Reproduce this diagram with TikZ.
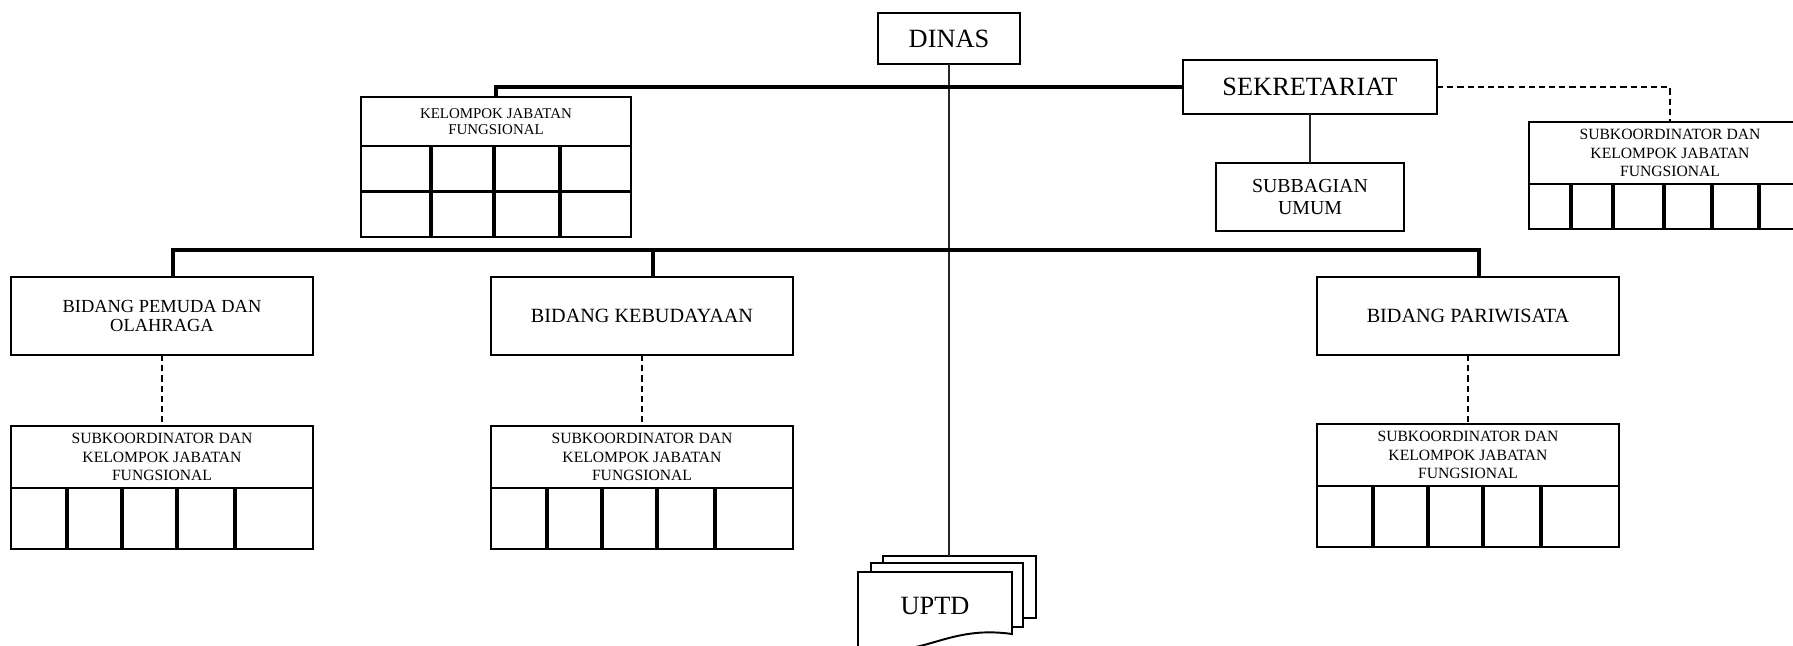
\documentclass[tikz,border=0pt]{standalone}
\usepackage{fontspec}
\setmainfont{Liberation Serif}
\usetikzlibrary{positioning,calc}
\tikzset{
    % --- Plain organisation box ---
    unitbox/.style = {
        rectangle, draw, line width=1.2pt, fill=white,
        inner sep=2pt, outer sep=0pt, align=center
    },
    % --- Top level boxes (Dinas, Sekretariat) ---
    head unit/.style = {
        unitbox, font=\fontsize{15}{17}\selectfont
    },
    % --- Bidang box ---
    bidang/.style = {
        unitbox, minimum width=6.04cm, minimum height=1.56cm,
        font=\fontsize{11.5}{10.8}\selectfont
    },
    % --- Header of a functional group ---
    group head/.style = {
        unitbox, font=\fontsize{8.9}{10.4}\selectfont
    },
    % --- Empty grid under a group header ---
    group grid/.style = {
        unitbox, line width=1.6pt
    },
    % --- Cell divider inside a grid ---
    cell/.style = {
        line width=1.9pt
    },
    % --- Line of command ---
    link/.style = {
        line width=1.9pt
    },
    thin link/.style = {
        line width=1.2pt, black!85
    },
    % --- Line of coordination ---
    coord link/.style = {
        line width=1.2pt, dash pattern=on 3.5pt off 2.3pt
    },
    % --- Stacked sheet of the UPTD symbol ---
    sheet/.style = {
        draw, line width=1.1pt, fill=white, outer sep=0pt
    }
}

\begin{document}
\begin{tikzpicture}[x=0.02cm, y=-0.02cm]

\useasboundingbox (0,0) rectangle (1793,646);
\clip (0,0) rectangle (1793,646);

% ---------------------------------------------------------
% Top level
% ---------------------------------------------------------
\node[head unit, minimum width=2.84cm, minimum height=1.02cm] (dinas) at (949,38.5) {DINAS};
\node[head unit, minimum width=5.08cm, minimum height=1.08cm] (sek) at (1310,87) {SEKRETARIAT};
\node[unitbox, minimum width=3.76cm, minimum height=1.36cm,
      font=\fontsize{11.3}{12.5}\selectfont] (subbag) at (1310,197) {SUBBAGIAN\\UMUM};

% Kelompok jabatan fungsional (left)
\node[group head, minimum width=5.4cm, minimum height=0.98cm,
      font=\fontsize{8.5}{9.3}\selectfont] (kjf) at (496,121.5) {KELOMPOK JABATAN\\FUNGSIONAL};
\node[group grid, minimum width=5.4cm, minimum height=1.82cm, below=0pt of kjf] (kjfgrid) {};
\draw[cell] (kjfgrid.west) -- (kjfgrid.east);
\foreach \d in {70,133,199}
    \draw[cell] ($(kjfgrid.north west)+(\d,0)$) -- ($(kjfgrid.south west)+(\d,0)$);

% Subkoordinator under Sekretariat (right)
\node[group head, minimum width=5.64cm, minimum height=1.24cm] (sk0) at (1670,153)
    {SUBKOORDINATOR DAN\\KELOMPOK JABATAN\\FUNGSIONAL};
\node[group grid, minimum width=5.64cm, minimum height=0.9cm, below=0pt of sk0] (sk0grid) {};
\foreach \d in {42,84,135,183,230}
    \draw[cell] ($(sk0grid.north west)+(\d,0)$) -- ($(sk0grid.south west)+(\d,0)$);

% ---------------------------------------------------------
% Bidang and their subkoordinator
% ---------------------------------------------------------
\node[bidang, font=\fontsize{10.5}{10.6}\selectfont] (bpo) at (162,316) {BIDANG PEMUDA DAN\\OLAHRAGA};
\node[bidang] (bk) at (642,316) {BIDANG KEBUDAYAAN};
\node[bidang] (bp) at (1468,316) {BIDANG PARIWISATA};

\node[group head, minimum width=6.04cm, minimum height=1.24cm, below=1.42cm of bpo] (sk1)
    {SUBKOORDINATOR DAN\\KELOMPOK JABATAN\\FUNGSIONAL};
\node[group head, minimum width=6.04cm, minimum height=1.24cm, below=1.42cm of bk] (sk2)
    {SUBKOORDINATOR DAN\\KELOMPOK JABATAN\\FUNGSIONAL};
\node[group head, minimum width=6.04cm, minimum height=1.24cm, below=1.38cm of bp] (sk3)
    {SUBKOORDINATOR DAN\\KELOMPOK JABATAN\\FUNGSIONAL};

\foreach \s in {sk1,sk2,sk3} {
    \node[group grid, minimum width=6.04cm, minimum height=1.22cm, below=0pt of \s] (\s grid) {};
    \foreach \d in {56,111,166,224}
        \draw[cell] ($(\s grid.north west)+(\d,0)$) -- ($(\s grid.south west)+(\d,0)$);
}

% ---------------------------------------------------------
% UPTD (stacked sheets)
% ---------------------------------------------------------
\node[sheet, minimum width=3.06cm, minimum height=1.24cm] (uptd3) at (959.5,587) {};
\node[sheet, minimum width=3.04cm, minimum height=1.28cm] (uptd2) at (947,595) {};
\draw[sheet] (858,572) -- (1012,572) -- (1012,634)
    .. controls (970,628) and (945,640) .. (920,646)
    .. controls (895,652) and (875,655) .. (858,652) -- cycle;
\node[font=\fontsize{15}{17}\selectfont] (uptd) at (935,606) {UPTD};

% ---------------------------------------------------------
% Connectors
% ---------------------------------------------------------
\coordinate (bus) at (dinas.south |- 0,250);

\draw[thin link] (dinas.south) -- (dinas.south |- uptd3.north);
\draw[link] (sek.west) -| (kjf.north);
\draw[coord link] (sek.east) -| (sk0.north);
\draw[thin link] (sek) -- (subbag);

\draw[link] ([xshift=0.22cm]bpo.north) |- (bus) -| ([xshift=0.22cm]bp.north);
\draw[link] ([xshift=0.22cm]bk.north) -- ([xshift=0.22cm]bk.north |- bus);

\draw[coord link] (bpo) -- (sk1);
\draw[coord link] (bk) -- (sk2);
\draw[coord link] (bp) -- (sk3);

\end{tikzpicture}
\end{document}
